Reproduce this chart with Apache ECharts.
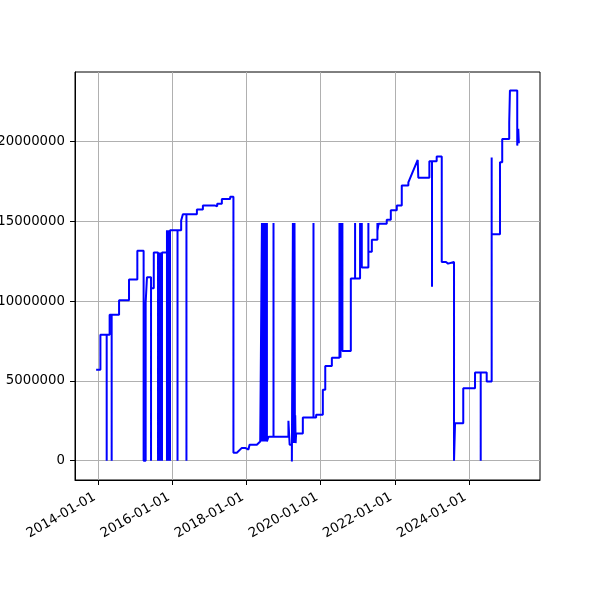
<!DOCTYPE html>
<html>
<head>
<meta charset="utf-8">
<script src="https://cdn.jsdelivr.net/npm/echarts@6/dist/echarts.min.js"></script>
<style>
html,body{margin:0;padding:0;background:#fff;}
#c{width:600px;height:600px;}
</style>
</head>
<body>
<div id="c"></div>
<script>
// ---- data ----
const dates = [
 '2013-12-10','2014-01-21','2014-01-21','2014-03-24','2014-03-24','2014-03-24','2014-04-22','2014-04-22',
 '2014-05-12','2014-05-12','2014-05-12','2014-07-24','2014-07-24','2014-10-30','2014-10-30','2015-01-20',
 '2015-01-20','2015-03-23','2015-03-23','2015-04-12','2015-04-12','2015-04-25','2015-04-25','2015-06-04',
 '2015-06-04','2015-06-04','2015-07-01','2015-07-01',
 '2015-08-12','2015-08-12','2015-08-12','2015-08-22','2015-08-22','2015-08-22','2015-08-31','2015-08-31','2015-08-31',
 '2015-09-10','2015-09-10','2015-09-10','2015-09-20','2015-09-20','2015-09-20',
 '2015-11-08','2015-11-08','2015-11-08','2015-11-18','2015-11-18','2015-11-18','2015-11-28','2015-11-28','2015-11-28',
 '2015-12-08','2015-12-08','2015-12-08','2016-02-20','2016-02-20','2016-02-20',
 '2016-03-27','2016-03-27','2016-04-13','2016-04-13','2016-05-18','2016-05-18','2016-05-18',
 '2016-08-29','2016-08-29','2016-10-27','2016-10-27','2017-02-18','2017-02-18','2017-03-07','2017-03-07',
 '2017-03-17','2017-03-17','2017-05-02','2017-05-02','2017-07-23','2017-07-23','2017-08-24','2017-08-24',
 '2017-09-27','2017-11-15','2017-12-17','2018-01-19','2018-01-30','2018-04-12','2018-04-12','2018-05-15',
 '2018-06-01','2018-06-01','2018-06-01','2018-06-08','2018-06-08','2018-06-08','2018-06-15','2018-06-15','2018-06-15',
 '2018-06-22','2018-06-22','2018-06-22','2018-06-29','2018-06-29','2018-06-29','2018-07-06','2018-07-06','2018-07-06',
 '2018-07-13','2018-07-13','2018-07-13','2018-07-20','2018-07-20','2018-07-20',
 '2018-08-05','2018-08-05','2018-09-23','2018-09-23','2018-09-23',
 '2019-02-17','2019-02-17','2019-03-01','2019-03-01','2019-03-23','2019-03-23','2019-04-02','2019-04-06',
 '2019-04-10','2019-04-14','2019-04-18','2019-04-22','2019-04-25','2019-04-29','2019-05-04',
 '2019-07-09','2019-07-09','2019-10-22','2019-10-22','2019-10-22','2019-11-17','2019-11-17',
 '2020-01-22','2020-01-22','2020-02-15','2020-02-15','2020-04-20','2020-04-20',
 '2020-07-04','2020-07-04','2020-07-04','2020-07-14','2020-07-14','2020-07-14','2020-07-23','2020-07-23','2020-07-23',
 '2020-08-02','2020-08-02','2020-08-02','2020-10-24','2020-10-24','2020-12-05','2020-12-05','2020-12-05',
 '2021-01-23','2021-01-23','2021-01-23','2021-02-09','2021-02-09','2021-02-09','2021-04-15','2021-04-15','2021-04-15',
 '2021-05-19','2021-05-19','2021-07-13','2021-07-13','2021-07-13','2021-07-25','2021-07-25',
 '2021-10-13','2021-10-13','2021-11-22','2021-11-22','2022-01-20','2022-01-20','2022-03-10','2022-03-10',
 '2022-05-14','2022-05-14','2022-05-31','2022-08-14','2022-08-20','2022-12-07','2022-12-07',
 '2023-01-02','2023-01-02','2023-01-02','2023-02-17','2023-02-17','2023-04-08','2023-04-08',
 '2023-05-20','2023-05-20','2023-06-09','2023-06-09','2023-08-07','2023-08-07','2023-08-17','2023-08-17',
 '2023-11-06','2023-11-06','2024-03-01','2024-03-01','2024-04-26','2024-04-26','2024-04-26',
 '2024-06-24','2024-06-24','2024-08-12','2024-08-12','2024-08-12','2024-11-02','2024-11-02',
 '2024-11-24','2024-11-24','2025-02-01','2025-02-01','2025-02-08','2025-02-08','2025-04-21','2025-04-21',
 '2025-05-01','2025-05-01','2025-05-07'
];
const values = [
 5700000,5700000,7900000,7900000,0,7900000,7900000,9150000,
 9150000,0,9150000,9150000,10050000,10050000,11350000,11350000,
 13150000,13150000,0,0,9900000,9900000,11500000,11500000,
 0,10800000,10800000,13050000,
 13050000,0,13050000,13050000,0,13050000,13050000,0,13050000,
 13050000,0,13050000,13050000,0,13050000,
 13050000,0,14450000,14450000,0,14450000,14450000,0,14450000,
 14450000,0,14450000,14450000,0,14450000,
 14450000,15050000,15050000,15450000,15450000,0,15450000,
 15450000,15750000,15750000,16000000,16000000,16100000,16100000,15950000,
 15950000,16100000,16100000,16400000,16400000,16550000,16550000,500000,
 500000,800000,800000,700000,1000000,1000000,1080000,1200000,
 1200000,14900000,1200000,1200000,14900000,1200000,1200000,14900000,1200000,
 1200000,14900000,1200000,1200000,14900000,1200000,1200000,14900000,1200000,
 1200000,14900000,1200000,1200000,14900000,1200000,
 1200000,1500000,1500000,14900000,1500000,
 1500000,2500000,2500000,1000000,1000000,-50000,14900000,1100000,
 14900000,1100000,14900000,1200000,2850000,1100000,1700000,
 1700000,2700000,2700000,14900000,2700000,2700000,2870000,
 2870000,4440000,4440000,5940000,5940000,6450000,
 6450000,14900000,6450000,6450000,14900000,6450000,6450000,14900000,6870000,
 6870000,14900000,6870000,6870000,11420000,11420000,14900000,11420000,
 11420000,14900000,12100000,12100000,14900000,12100000,12100000,14900000,13100000,
 13100000,13850000,13850000,14900000,14400000,14400000,14850000,
 14850000,15100000,15100000,15700000,15700000,16000000,16000000,17250000,
 17250000,17450000,17450000,18850000,17730000,17730000,18770000,
 18770000,10900000,18770000,18770000,19060000,19060000,12450000,
 12450000,12350000,12350000,12450000,12450000,0,0,2350000,
 2350000,4540000,4540000,5520000,5520000,0,5520000,
 5520000,4960000,4960000,19000000,14190000,14190000,18700000,
 18700000,20170000,20170000,21200000,21200000,23200000,23200000,19750000,
 19750000,20800000,19900000
];
const xTickDates = ['2014-01-01','2016-01-01','2018-01-01','2020-01-01','2022-01-01','2024-01-01'];
const yTicks = [0, 5000000, 10000000, 15000000, 20000000];

// ---- helpers ----
function toTs(s){ const p = s.split('-').map(Number); return new Date(p[0], p[1]-1, p[2]).getTime(); }
function pad(n){ return (n<10?'0':'') + n; }
function fmtDate(v){ const d = new Date(v); return d.getFullYear() + '-' + pad(d.getMonth()+1) + '-' + pad(d.getDate()) + ' '; }

const ts = dates.map(toTs);
const n = Math.min(ts.length, values.length);
const seriesData = [];
for (let i = 0; i < n; i++) seriesData.push([ts[i], values[i]]);
const xFirst = Math.min.apply(null, ts), xLast = Math.max.apply(null, ts);
const xSpan = xLast - xFirst;
const vMin = Math.min(0, Math.min.apply(null, values)), vMax = Math.max.apply(null, values);
const vSpan = vMax - vMin;
const xTickTs = xTickDates.map(toTs);

const font = {fontFamily: 'DejaVu Sans', fontSize: 13.3, color: '#000'};
const chart = echarts.init(document.getElementById('c'), null, {renderer: 'canvas'});
chart.setOption({
  animation: false,
  grid: {left: 75, right: 60, top: 72, bottom: 120, containLabel: false, outerBoundsMode: 'none',
         show: true, borderColor: '#000', borderWidth: 1, backgroundColor: 'transparent'},
  xAxis: {
    type: 'value',
    min: xFirst - 0.05 * xSpan,
    max: xLast + 0.05 * xSpan,
    axisLine: {show: true, onZero: false, lineStyle: {color: '#000', width: 1}},
    axisTick: {show: true, customValues: xTickTs, length: 5, lineStyle: {color: '#000', width: 1}},
    axisLabel: Object.assign({customValues: xTickTs, rotate: 30, margin: 14, formatter: fmtDate, showMinLabel: true, showMaxLabel: true}, font),
    splitLine: {show: true, lineStyle: {color: '#b0b0b0', width: 1}}
  },
  yAxis: {
    type: 'value',
    min: vMin - 0.05 * vSpan,
    max: vMax + 0.05 * vSpan,
    axisLine: {show: true, onZero: false, lineStyle: {color: '#000', width: 1}},
    axisTick: {show: true, customValues: yTicks, length: 5, lineStyle: {color: '#000', width: 1}},
    axisLabel: Object.assign({customValues: yTicks, margin: 10, formatter: v => String(v)}, font),
    splitLine: {show: true, lineStyle: {color: '#b0b0b0', width: 1}}
  },
  series: [{
    type: 'line',
    data: seriesData,
    showSymbol: false,
    symbol: 'none',
    lineStyle: {color: '#0000ff', width: 2},
    clip: true
  }]
});
</script>
</body>
</html>
